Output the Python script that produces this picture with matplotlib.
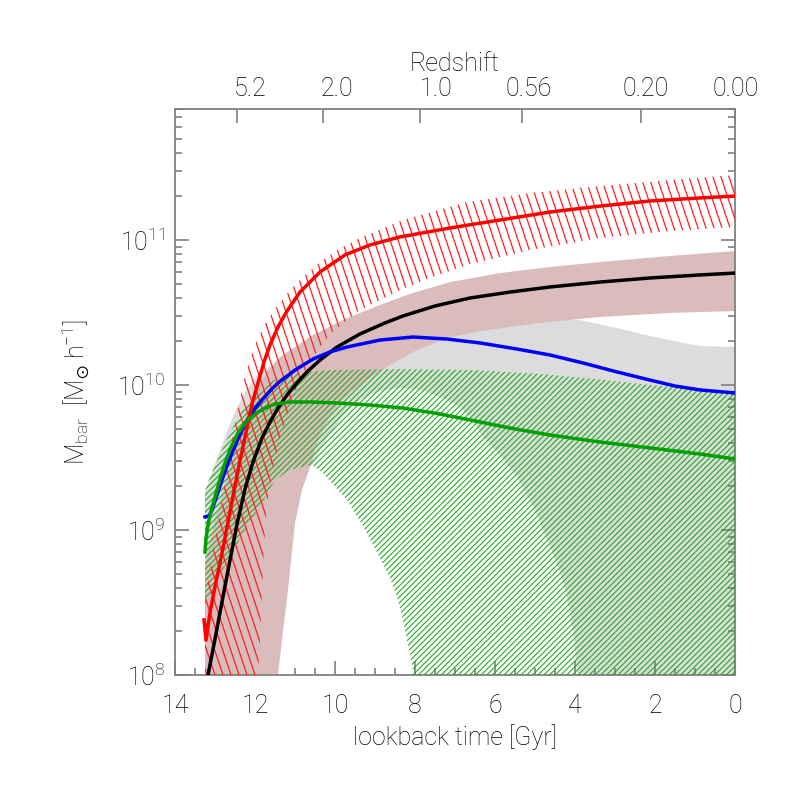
import numpy as np
import matplotlib
matplotlib.use("Agg")
import matplotlib.pyplot as plt
import matplotlib.transforms as mtrans
from matplotlib.patches import Polygon
from matplotlib.collections import LineCollection
from matplotlib.ticker import FixedLocator, LogLocator, NullFormatter, MultipleLocator

plt.rcParams['font.family'] = ['Roboto', 'DejaVu Sans']
plt.rcParams['font.weight'] = 'light'
plt.rcParams['axes.labelweight'] = 'light'
plt.rcParams['mathtext.fontset'] = 'custom'
plt.rcParams['mathtext.rm'] = 'Roboto:light'
plt.rcParams['mathtext.it'] = 'Roboto:light'
plt.rcParams['mathtext.default'] = 'regular'

# ---------------- data (lookback time [Gyr], log10 M) ----------------
red_t = [13.275, 13.225, 13.125, 13.0, 12.825, 12.675, 12.425, 12.25, 12.075, 11.925, 11.775, 11.625,
         11.425, 11.2, 10.875, 10.375, 9.75, 9.125, 8.375, 7.125, 5.875, 4.625, 3.375, 2.125, 0.875, 0.0]
red_m = [8.38, 8.24, 8.43, 8.61, 8.84, 9.055, 9.41, 9.64, 9.87, 10.014, 10.159, 10.276,
         10.40, 10.51, 10.641, 10.779, 10.897, 10.966, 11.021, 11.083, 11.138, 11.193, 11.234, 11.269, 11.29, 11.303]

blk_t = [13.225, 13.175, 13.0, 12.75, 12.575, 12.45, 12.25, 12.05, 11.825, 11.625, 11.425, 11.2, 10.95,
         10.675, 10.375, 9.95, 9.375, 8.75, 8.3, 7.5, 6.625, 5.625, 4.625, 3.375, 2.125, 0.875, 0.0]
blk_m = [7.931, 8.0, 8.248, 8.614, 8.862, 9.041, 9.283, 9.469, 9.634, 9.745, 9.841, 9.931, 10.014,
         10.097, 10.172, 10.262, 10.352, 10.428, 10.476, 10.545, 10.60, 10.641, 10.676, 10.710, 10.738, 10.759, 10.772]

blu_t = [13.25, 13.15, 13.075, 12.95, 12.825, 12.7, 12.575, 12.425, 12.25, 12.05, 11.825, 11.625, 11.425,
         11.0, 10.55, 10.125, 9.7, 8.875, 8.05, 7.2, 6.375, 5.45, 4.625, 3.8, 2.95, 2.125, 1.5, 0.875, 0.0]
blu_m = [9.090, 9.097, 9.138, 9.241, 9.345, 9.441, 9.531, 9.628, 9.731, 9.821, 9.897, 9.959, 10.014,
         10.103, 10.179, 10.228, 10.262, 10.310, 10.331, 10.317, 10.290, 10.248, 10.207, 10.152, 10.090,
         10.034, 9.993, 9.966, 9.945]

grn_t = [13.25, 13.225, 13.175, 13.1, 13.0, 12.875, 12.75, 12.6, 12.425, 12.225, 12.0, 11.75, 11.5,
         11.125, 10.625, 9.95, 9.125, 8.3, 7.375, 6.625, 5.625, 4.625, 3.375, 2.125, 0.875, 0.0]
grn_m = [8.848, 8.945, 9.034, 9.131, 9.228, 9.352, 9.462, 9.572, 9.669, 9.745, 9.80, 9.841, 9.869,
         9.883, 9.883, 9.876, 9.862, 9.841, 9.80, 9.759, 9.703, 9.655, 9.607, 9.566, 9.524, 9.490]

# red hatched band (upper / lower edges)
redu_t = [13.25, 13.0, 12.75, 12.575, 12.425, 12.275, 12.125, 11.95, 11.75, 11.5, 11.125, 10.8, 10.375,
          9.95, 9.375, 8.3, 6.7, 5.125, 3.375, 1.625, 0.0]
redu_m = [8.517, 8.931, 9.331, 9.621, 9.841, 10.034, 10.186, 10.310, 10.421, 10.524, 10.655, 10.745, 10.848,
          10.931, 11.014, 11.138, 11.262, 11.324, 11.372, 11.414, 11.448]
redl_t = [13.25, 12.0, 11.95, 11.875, 11.825, 11.775, 11.7, 11.575, 11.375, 11.05, 10.7, 10.375, 10.05,
          9.375, 8.375, 7.625, 6.7, 5.125, 3.375, 1.625, 0.0]
redl_m = [7.0, 7.0, 7.897, 8.241, 8.586, 8.897, 9.172, 9.393, 9.641, 9.917, 10.124, 10.262, 10.372,
          10.517, 10.655, 10.738, 10.828, 10.931, 11.014, 11.062, 11.090]

# rose band
roseu_t = [13.25, 13.0, 12.75, 12.5, 12.2, 11.925, 11.625, 11.375, 10.55, 9.7, 8.875, 8.125, 7.125,
           5.875, 4.625, 3.375, 1.625, 0.0]
roseu_m = [8.759, 9.069, 9.310, 9.552, 9.828, 10.0, 10.117, 10.193, 10.345, 10.462, 10.552, 10.628, 10.710,
           10.772, 10.814, 10.848, 10.890, 10.924]
rosel_t = [13.25, 11.475, 11.425, 11.325, 11.175, 11.0, 10.825, 10.625, 10.425, 10.125, 9.75, 9.375, 8.875,
           8.05, 7.2, 6.375, 4.875, 3.375, 1.625, 0.0]
rosel_m = [7.0, 7.83, 8.0, 8.241, 8.586, 9.048, 9.276, 9.434, 9.621, 9.793, 9.917, 10.0, 10.097,
           10.228, 10.324, 10.372, 10.428, 10.469, 10.497, 10.510]

# grey band
greyu_t = [13.25, 13.125, 13.0, 12.825, 12.675, 12.475, 12.25, 11.925, 11.625, 11.25, 10.375, 8.375, 6.375,
           4.875, 3.875, 2.95, 2.125, 1.3, 0.875, 0.0]
greyu_m = [9.255, 9.359, 9.455, 9.586, 9.697, 9.828, 9.952, 10.076, 10.131, 10.172, 10.276, 10.379, 10.434,
           10.462, 10.448, 10.393, 10.338, 10.290, 10.269, 10.262]
greyl_t = [13.25, 11.625, 11.475, 11.375, 11.225, 11.05, 10.875, 10.675, 10.575, 10.375, 10.125, 9.75, 9.3,
           8.875, 8.45, 8.0, 7.625, 7.2, 6.8, 6.5, 6.3, 5.875, 5.45, 5.0, 4.625, 4.375, 4.2, 4.05, 3.95,
           3.925, 3.9, 0.0]
greyl_m = [7.0, 7.0, 8.0, 8.24, 8.586, 9.048, 9.276, 9.434, 9.448, 9.552, 9.662, 9.807, 9.910,
           9.959, 9.979, 9.972, 9.945, 9.897, 9.828, 9.731, 9.641, 9.517, 9.366, 9.138, 8.883, 8.710, 8.538,
           8.310, 8.034, 7.828, 7.0, 7.0]

# green hatched band
gu_t = [13.25, 13.125, 13.0, 12.825, 12.675, 12.475, 12.25, 12.0, 11.75, 11.375, 11.0, 10.125, 8.375,
        6.5, 4.875, 3.5, 1.875, 0.0]
gu_m = [9.276, 9.366, 9.448, 9.552, 9.641, 9.752, 9.855, 9.938, 10.0, 10.055, 10.083, 10.103, 10.110,
        10.103, 10.076, 10.041, 9.993, 9.945]
gl_t = [13.25, 13.0, 12.675, 12.25, 11.825, 11.5, 11.125, 10.75, 10.575, 10.325, 10.125, 9.7, 9.3, 8.875,
        8.625, 8.45, 8.3, 8.175, 8.05, 8.025, 7.9, 0.0]
gl_m = [8.483, 8.621, 8.793, 9.0, 9.186, 9.345, 9.414, 9.441, 9.448, 9.40, 9.338, 9.207, 9.028, 8.807,
        8.669, 8.538, 8.379, 8.207, 8.034, 7.828, 7.0, 7.0]

z_labels = ['5.2', '2.0', '1.0', '0.56', '0.20', '0.00']
z_lookback = [12.45, 10.3, 7.875, 5.325, 2.35, 0.0]
z_label_shift_px = [13, 14, 16, 7, 5, 1]

x_ticks = [14, 12, 10, 8, 6, 4, 2, 0]
y_ticks = [1e8, 1e9, 1e10, 1e11]
y_ticklabels = ['$10^{8}$', '$10^{9}$', '$10^{10}$', '$10^{11}$']

# ---------------- figure ----------------
fig = plt.figure(figsize=(7.86, 7.86), dpi=100)
ax = fig.add_axes([175/786, 111/786, 560/786, 566/786])
ax.set_yscale('log')
YTOP = 10 ** (8 + 566 / 145)
ax.set_xlim(14, 0)
ax.set_ylim(1e8, YTOP)


def pw(a):
    return 10.0 ** np.asarray(a)


def band_xy(t_hi, m_hi, t_lo, m_lo):
    xs = np.r_[np.asarray(t_hi), np.asarray(t_lo)[::-1]]
    ys = np.r_[pw(m_hi), pw(m_lo)[::-1]]
    return xs, ys


AXW, AXH = 560.0, 566.0


def hatch(xs, ys, color, kind, spacing, lw, z):
    poly = Polygon(np.c_[xs, ys], closed=True, transform=ax.transData,
                   facecolor='none', edgecolor='none')
    ax.add_patch(poly)
    segs = []
    if kind == 'steep_back':
        for c in np.arange(0, AXW + AXH / 3 + spacing, spacing):
            segs.append([((c - AXH / 3) / AXW, 1.0), (c / AXW, 0.0)])
    else:
        for c in np.arange(-AXH, AXW + spacing, spacing):
            segs.append([(c / AXW, 0.0), ((c + AXH) / AXW, 1.0)])
    lc = LineCollection(segs, transform=ax.transAxes, colors=color, linewidths=lw, zorder=z)
    ax.add_collection(lc)
    lc.set_clip_path(poly)


xs, ys = band_xy(greyu_t, greyu_m, greyl_t, greyl_m)
ax.fill(xs, ys, color='#dcdcdc', lw=0, zorder=1)
xs, ys = band_xy(roseu_t, roseu_m, rosel_t, rosel_m)
ax.fill(xs, ys, color='#dbbcbc', lw=0, zorder=2)
xs, ys = band_xy(gu_t, gu_m, gl_t, gl_m)
hatch(xs, ys, '#22aa22', 'fwd', 5.7, 0.8, 3)
xs, ys = band_xy(redu_t, redu_m, redl_t, redl_m)
hatch(xs, ys, '#ff2020', 'steep_back', 8.0, 0.9, 4)

lw = 2.5
ax.plot(blk_t, pw(blk_m), color='black', lw=lw, zorder=5, solid_joinstyle='round')
ax.plot(blu_t, pw(blu_m), color='#0000ff', lw=lw, zorder=6, solid_joinstyle='round')
ax.plot(red_t, pw(red_m), color='#ff0000', lw=lw, zorder=7, solid_joinstyle='round')
ax.plot(grn_t, pw(grn_m), color='#00a000', lw=lw, zorder=8, solid_joinstyle='round')

ax.set_xlim(14, 0)
ax.set_ylim(1e8, YTOP)

spine_col = '#808080'
for s in ax.spines.values():
    s.set_color(spine_col)
    s.set_linewidth(1.3)

ax.xaxis.set_major_locator(FixedLocator(x_ticks))
ax.xaxis.set_minor_locator(MultipleLocator(0.5))
ax.yaxis.set_major_locator(FixedLocator(y_ticks))
ax.yaxis.set_minor_locator(LogLocator(base=10, subs=np.arange(2, 10)))
ax.yaxis.set_minor_formatter(NullFormatter())
ax.set_yticklabels(y_ticklabels)
ax.set_xticklabels([str(v) for v in x_ticks])
ax.tick_params(which='both', direction='in', top=False, right=True, color=spine_col, width=1.2,
               labelcolor='black')
ax.tick_params(which='major', length=10)
ax.tick_params(which='minor', length=5)
ax.tick_params(axis='x', which='major', labelsize=18, pad=14)
ax.tick_params(axis='y', which='major', labelsize=18, pad=7)

ax.set_xlabel('lookback time [Gyr]', fontsize=18, labelpad=4, fontweight='light')
ax.set_ylabel(r'M$_{\rm bar}$  [M$_{\odot}$ h$^{-1}$]', fontsize=18, labelpad=18, fontweight='light')

ax2 = ax.twiny()
ax2.set_xlim(14, 0)
ax2.xaxis.set_major_locator(FixedLocator(z_lookback))
ax2.set_xticklabels(z_labels)
ax2.xaxis.set_minor_locator(FixedLocator([]))
ax2.tick_params(which='both', direction='in', color=spine_col, width=1.2, length=10,
                labelsize=18, pad=6, labelcolor='black')
for s in ax2.spines.values():
    s.set_visible(False)
ax2.set_xlabel('Redshift', fontsize=18, labelpad=4, fontweight='light')

for lab, dx in zip(ax2.get_xticklabels(), z_label_shift_px):
    lab.set_transform(lab.get_transform() + mtrans.ScaledTranslation(dx / 100.0, 0, fig.dpi_scale_trans))

fig.savefig('out.png', dpi=100)
